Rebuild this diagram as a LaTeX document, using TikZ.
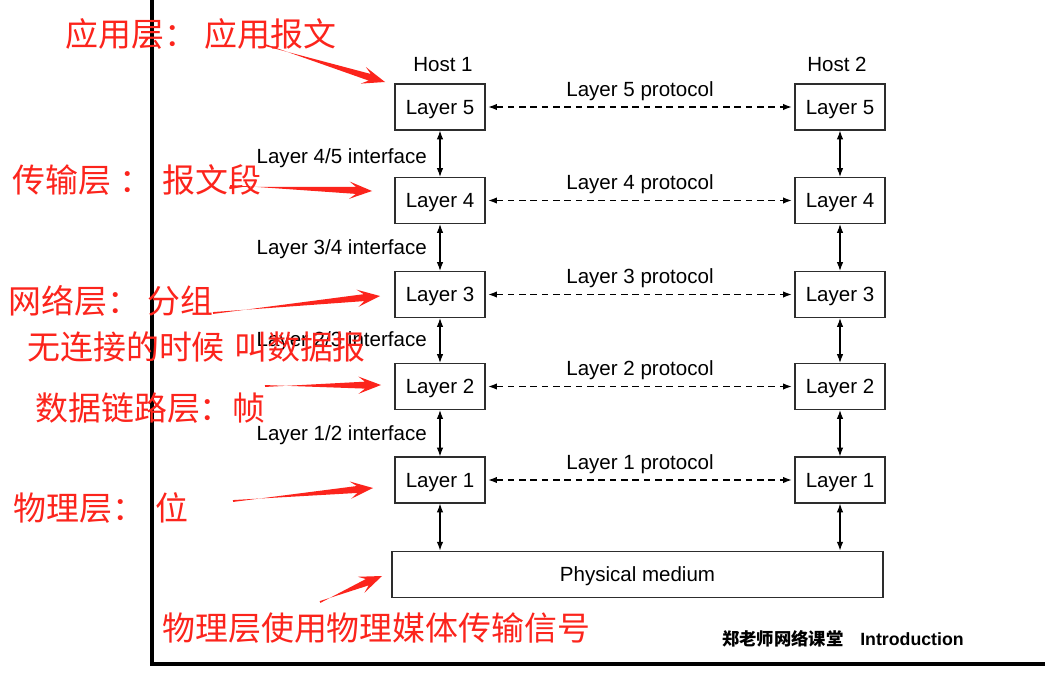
\documentclass[tikz,border=0pt]{standalone}
\usepackage{fontspec}
\setmainfont{Liberation Sans}
\newfontfamily\cjk{Noto Sans CJK SC}
\usetikzlibrary{arrows.meta,calc}
\definecolor{redc}{RGB}{252,36,28}
\definecolor{boxc}{RGB}{45,45,45}
\newcommand\redarrow[2]{%
  \coordinate (rabase) at ($(#2)!17pt!(#1)$);
  \coordinate (ranotch) at ($(#2)!12pt!(#1)$);
  \fill[redc] ($(#1)!0.7pt!90:(#2)$) -- ($(ranotch)!2.6pt!-90:(#2)$) -- ($(rabase)!6.5pt!-90:(#2)$) -- (#2)
     -- ($(rabase)!6.5pt!90:(#2)$) -- ($(ranotch)!2.6pt!90:(#2)$) -- ($(#1)!0.7pt!-90:(#2)$) -- cycle;
}
\begin{document}
\begin{tikzpicture}[x=0.75pt,y=-0.75pt,
  layerbox/.style={draw=boxc, line width=0.95pt, minimum width=67.5pt, minimum height=34.5pt, inner sep=0pt, text height=11pt, text depth=0pt, font=\fontsize{15.4}{18}\selectfont},
  lbl/.style={inner sep=0pt, text height=11pt, text depth=0pt, font=\fontsize{15.4}{18}\selectfont},
  annot/.style={text=redc, anchor=west, inner sep=0pt, font=\cjk\fontsize{24.7}{28}\selectfont},
  iface/.style={{Latex[length=6.5pt,width=4.8pt]}-{Latex[length=6.5pt,width=4.8pt]}, line width=0.8pt, draw=black},
  proto/.style={{Latex[length=6.5pt,width=4.8pt]}-{Latex[length=6.5pt,width=4.8pt]}, line width=0.8pt, dash pattern=on 5pt off 3.5pt, shorten <=2pt, shorten >=2pt}
]
\useasboundingbox (0,0) rectangle (1045,685);
\fill[white] (0,0) rectangle (1045,685);
% frame
\draw[line width=2.4pt] (152,0) -- (152,664) -- (1045,664);

% host labels
\node[lbl] (h1) at (443,64) {Host 1};
\node[lbl] (h2) at (837,64) {Host 2};

% boxes
\foreach \n/\y in {5/107,4/200.5,3/294.5,2/386.5,1/480}{
  \node[layerbox] (L\n) at (440,\y) {Layer \n};
  \node[layerbox] (R\n) at (840,\y) {Layer \n};
  \node[lbl] (P\n) at (640,\y-18) {Layer \n\ protocol};
  \draw[proto] (L\n) -- (R\n);
}
\node[layerbox, minimum width=368.25pt, minimum height=35pt] (pm) at (637.5,574.5) {Physical medium};

% interfaces
\node[lbl, anchor=east] (i45) at (427,156) {Layer 4/5 interface};
\node[lbl, anchor=east] (i34) at (427,247) {Layer 3/4 interface};
\node[lbl, anchor=east] (i23) at (427,339) {Layer 2/3 interface};
\node[lbl, anchor=east] (i12) at (427,433) {Layer 1/2 interface};

\foreach \a/\b in {5/4,4/3,3/2,2/1}{
  \draw[iface] (L\a) -- (L\b);
  \draw[iface] (R\a) -- (R\b);
}
\draw[iface] (L1.south) -- (L1.south |- pm.north);
\draw[iface] (R1.south) -- (R1.south |- pm.north);

% red annotations
\node[annot] (t1) at (65,34) {应用层：\hspace{6pt}应用报文};
\node[annot] (t2) at (12,180) {传输层\hspace{6.5pt}：\hspace{7.5pt}报文段};
\node[annot] (t3) at (8,301) {网络层：\hspace{6pt}分组};
\node[annot] (t4) at (27,347) {无连接的时候\hspace{7pt}叫数据报};
\node[annot] (t5) at (35,408) {数据链路层：帧};
\node[annot] (t6) at (13,508) {物理层：\hspace{8pt}位};
\node[annot] (t7) at (162,628) {物理层使用物理媒体传输信号};

\coordinate (a1) at (265,45);  \coordinate (b1) at (385,82);
\coordinate (a2) at (230,186); \coordinate (b2) at (372,191);
\coordinate (a3) at (213,313); \coordinate (b3) at (380,296);
\coordinate (a4) at (265,386); \coordinate (b4) at (381,385);
\coordinate (a5) at (233,501); \coordinate (b5) at (373,488);
\coordinate (a6) at (320,602); \coordinate (b6) at (382,576);
\redarrow{a1}{b1}
\redarrow{a2}{b2}
\redarrow{a3}{b3}
\redarrow{a4}{b4}
\redarrow{a5}{b5}
\redarrow{a6}{b6}

% footer
\node[anchor=west, inner sep=0pt, font=\cjk\bfseries\fontsize{13}{15}\selectfont] (ft) at (722,639) {郑老师网络课堂};
\node[anchor=west, inner sep=0pt, font=\bfseries\fontsize{13.3}{15}\selectfont] (intro) at (860,639) {Introduction};
\end{tikzpicture}
\end{document}
